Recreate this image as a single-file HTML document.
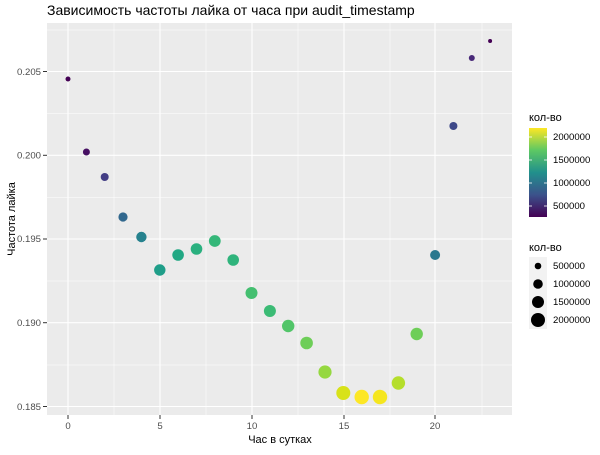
<!DOCTYPE html>
<html><head><meta charset="utf-8"><style>body{margin:0;background:#fff}</style></head><body>
<svg width="600" height="450" xmlns="http://www.w3.org/2000/svg" font-family="Liberation Sans, DejaVu Sans, sans-serif">
<defs><linearGradient id="v" x1="0" y1="1" x2="0" y2="0">
<stop offset="0" stop-color="#440154"/><stop offset="0.25" stop-color="#3b528b"/><stop offset="0.5" stop-color="#21908c"/><stop offset="0.75" stop-color="#5dc863"/><stop offset="1" stop-color="#fde725"/></linearGradient></defs>
<text x="47" y="15" font-size="14" fill="#000">Зависимость частоты лайка от часа при audit_timestamp</text>
<rect x="47" y="23" width="465" height="392" fill="#ebebeb"/>
<g stroke="#fff" stroke-width="0.5">
<line x1="47" x2="512" y1="113.5" y2="113.5"/><line x1="47" x2="512" y1="197.5" y2="197.5"/><line x1="47" x2="512" y1="281" y2="281"/><line x1="47" x2="512" y1="365" y2="365"/><line x1="47" x2="512" y1="30" y2="30"/>
<line y1="23" y2="415" x1="114" x2="114"/><line y1="23" y2="415" x1="206" x2="206"/><line y1="23" y2="415" x1="298" x2="298"/><line y1="23" y2="415" x1="390" x2="390"/><line y1="23" y2="415" x1="482" x2="482"/>
</g>
<g stroke="#fff" stroke-width="1.1">
<line x1="47" x2="512" y1="71.5" y2="71.5"/><line x1="47" x2="512" y1="155.3" y2="155.3"/><line x1="47" x2="512" y1="239" y2="239"/><line x1="47" x2="512" y1="322.7" y2="322.7"/><line x1="47" x2="512" y1="406.5" y2="406.5"/>
<line y1="23" y2="415" x1="68" x2="68"/><line y1="23" y2="415" x1="160" x2="160"/><line y1="23" y2="415" x1="252" x2="252"/><line y1="23" y2="415" x1="344" x2="344"/><line y1="23" y2="415" x1="435" x2="435"/>
</g>
<g stroke="#333" stroke-width="1">
<line x1="43" x2="47" y1="71.5" y2="71.5"/><line x1="43" x2="47" y1="155.3" y2="155.3"/><line x1="43" x2="47" y1="239" y2="239"/><line x1="43" x2="47" y1="322.7" y2="322.7"/><line x1="43" x2="47" y1="406.5" y2="406.5"/>
<line y1="415" y2="419" x1="68" x2="68"/><line y1="415" y2="419" x1="160" x2="160"/><line y1="415" y2="419" x1="252" x2="252"/><line y1="415" y2="419" x1="344" x2="344"/><line y1="415" y2="419" x1="435" x2="435"/>
</g>
<g font-size="9.6" fill="#4d4d4d" text-anchor="end">
<text x="41" y="75">0.205</text><text x="41" y="158.5">0.200</text><text x="41" y="242">0.195</text><text x="41" y="326">0.190</text><text x="41" y="410">0.185</text>
</g>
<g font-size="9.6" fill="#4d4d4d" text-anchor="middle">
<text x="68" y="429">0</text><text x="160" y="429">5</text><text x="252" y="429">10</text><text x="344" y="429">15</text><text x="435" y="429">20</text>
</g>
<text x="280" y="443" font-size="11" text-anchor="middle">Час в сутках</text>
<text transform="translate(15,219) rotate(-90)" font-size="11" text-anchor="middle">Частота лайка</text>
<g>
<circle cx="68" cy="79" r="2.5" fill="#440154"/>
<circle cx="86.4" cy="152" r="3.5" fill="#471063"/>
<circle cx="104.7" cy="177" r="4" fill="#433e85"/>
<circle cx="123" cy="217" r="4.6" fill="#31688e"/>
<circle cx="141.4" cy="237" r="5.2" fill="#26828e"/>
<circle cx="159.8" cy="270" r="5.7" fill="#1f9e89"/>
<circle cx="178.1" cy="255" r="5.8" fill="#22a884"/>
<circle cx="196.5" cy="249" r="5.8" fill="#2ab07f"/>
<circle cx="214.8" cy="241" r="5.9" fill="#35b779"/>
<circle cx="233.2" cy="260" r="5.8" fill="#2fb47c"/>
<circle cx="251.5" cy="293" r="6" fill="#44bf70"/>
<circle cx="269.9" cy="311" r="6" fill="#3bbb75"/>
<circle cx="288.2" cy="326" r="6.2" fill="#52c569"/>
<circle cx="306.6" cy="343" r="6.3" fill="#6ece58"/>
<circle cx="325" cy="372" r="6.6" fill="#95d840"/>
<circle cx="343.3" cy="393" r="7" fill="#d8e219"/>
<circle cx="361.7" cy="397" r="7.2" fill="#fde725"/>
<circle cx="380" cy="397" r="7.2" fill="#f5e61f"/>
<circle cx="398.4" cy="383" r="6.7" fill="#b5de2b"/>
<circle cx="416.7" cy="334" r="6.2" fill="#6ece58"/>
<circle cx="435.1" cy="255" r="5" fill="#2a788e"/>
<circle cx="453.4" cy="126" r="4" fill="#3e4989"/>
<circle cx="471.8" cy="58" r="3" fill="#482878"/>
<circle cx="490.1" cy="41" r="2" fill="#440154"/>
</g>
<text x="529" y="121" font-size="11">кол-во</text>
<rect x="529" y="128" width="18" height="89" fill="url(#v)"/>
<g stroke="#fff" stroke-width="0.8">
<line x1="529" x2="532" y1="137" y2="137"/><line x1="544" x2="547" y1="137" y2="137"/>
<line x1="529" x2="532" y1="160" y2="160"/><line x1="544" x2="547" y1="160" y2="160"/>
<line x1="529" x2="532" y1="183" y2="183"/><line x1="544" x2="547" y1="183" y2="183"/>
<line x1="529" x2="532" y1="206" y2="206"/><line x1="544" x2="547" y1="206" y2="206"/>
</g>
<g font-size="9.6" fill="#000">
<text x="553" y="140">2000000</text><text x="553" y="163">1500000</text><text x="553" y="186">1000000</text><text x="553" y="209">500000</text>
</g>
<text x="529" y="251" font-size="11">кол-во</text>
<rect x="529" y="257" width="18" height="72" fill="#f2f2f2"/>
<circle cx="538" cy="266" r="3.3" fill="#000"/>
<circle cx="538" cy="284" r="4.8" fill="#000"/>
<circle cx="538" cy="302" r="6" fill="#000"/>
<circle cx="538" cy="320" r="7" fill="#000"/>
<g font-size="9.6" fill="#000">
<text x="553" y="269">500000</text><text x="553" y="287">1000000</text><text x="553" y="305">1500000</text><text x="553" y="323">2000000</text>
</g>
</svg>
</body></html>
